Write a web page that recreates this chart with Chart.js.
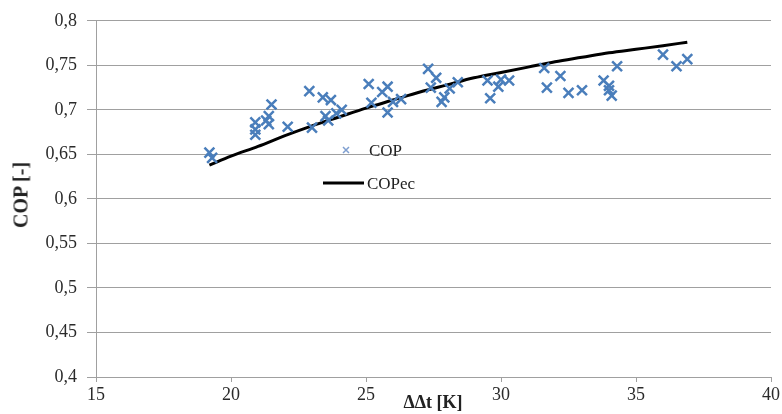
<!DOCTYPE html>
<html>
<head>
<meta charset="utf-8">
<script src="https://cdn.jsdelivr.net/npm/chart.js@4.4.1/dist/chart.umd.min.js"></script>
<style>
    html, body { margin: 0; padding: 0; background: #fff; }
    #wrap { position: relative; width: 782px; height: 414px; overflow: hidden; }
    .lbl { position: absolute; font-family: "Liberation Serif", serif; color: #222; white-space: nowrap; }
    #y-title { left: 21px; top: 195px; font-size: 20px; font-weight: bold; transform: translate(-50%, -50%) rotate(-90deg); }
    #x-title { left: 433px; top: 402px; font-size: 18px; font-weight: bold; transform: translate(-50%, -50%); }
    .leg { font-size: 17px; transform: translateY(-50%); }
</style>
</head>
<body>
<div id="wrap">
    <canvas id="copChart" width="782" height="414"></canvas>
    <div class="lbl" id="y-title">COP [-]</div>
    <div class="lbl" id="x-title">ΔΔt [K]</div>
    <div class="lbl leg" style="left:369px; top:151px">COP</div>
    <div class="lbl leg" style="left:367px; top:184px">COPec</div>
</div>
<script>
// Measured points (ΔΔt [K], COP [-])
const copX = [19.2, 19.3, 20.9, 20.9, 20.9, 21.3, 21.4, 21.5, 21.4, 22.1,
              22.9, 23.0, 23.4, 23.7, 23.5, 23.9, 24.1, 23.6, 25.1, 25.2,
              25.6, 25.8, 25.8, 26.0, 26.3, 27.3, 27.6, 27.4, 27.9, 28.1,
              28.4, 27.8, 29.6, 29.9, 30.0, 30.3, 29.5, 31.6, 32.2, 31.7,
              32.5, 33.0, 33.8, 34.0, 34.3, 34.1, 34.0, 36.0, 36.5, 36.9];
const copY = [0.652, 0.646, 0.686, 0.678, 0.672, 0.688, 0.693, 0.706, 0.684, 0.681,
              0.721, 0.680, 0.714, 0.711, 0.693, 0.696, 0.700, 0.688, 0.729, 0.708,
              0.720, 0.726, 0.697, 0.709, 0.712, 0.746, 0.736, 0.725, 0.714, 0.724,
              0.731, 0.709, 0.713, 0.726, 0.734, 0.733, 0.733, 0.747, 0.738, 0.725,
              0.719, 0.722, 0.733, 0.727, 0.749, 0.716, 0.722, 0.762, 0.749, 0.757];

// Correlation curve COPec
const fitX = [19.2, 20, 21, 22, 23, 24, 25, 26, 27, 28, 29, 30, 31, 32, 33, 34, 35, 36, 36.9];
const fitY = [0.638, 0.648, 0.659, 0.671, 0.682, 0.692, 0.702, 0.711, 0.720, 0.728,
              0.736, 0.742, 0.748, 0.754, 0.759, 0.764, 0.768, 0.772, 0.776];

// Axis ticks
const xTicks = [15, 20, 25, 30, 35, 40];
const yTicks = [0.4, 0.45, 0.5, 0.55, 0.6, 0.65, 0.7, 0.75, 0.8];

const MARK_BLUE = '#4a7ebb';
const GRID = '#a0a0a0';
const TICK_FONT = { family: '"Liberation Serif", serif', size: 18 };

const zip = (xs, ys) => xs.map((x, i) => ({ x: x, y: ys[i] }));

// Legend symbols drawn next to the HTML labels
const legendMarks = {
    id: 'legendMarks',
    afterDraw(chart) {
        const ctx = chart.ctx;
        ctx.save();
        ctx.strokeStyle = '#7f9fd0';
        ctx.lineWidth = 1.5;
        ctx.beginPath();
        ctx.moveTo(343, 147); ctx.lineTo(349, 153);
        ctx.moveTo(349, 147); ctx.lineTo(343, 153);
        ctx.stroke();
        ctx.strokeStyle = '#000';
        ctx.lineWidth = 3;
        ctx.beginPath();
        ctx.moveTo(323, 183); ctx.lineTo(364, 183);
        ctx.stroke();
        ctx.restore();
    }
};

new Chart(document.getElementById('copChart'), {
    type: 'scatter',
    data: {
        datasets: [
            {
                label: 'COP',
                data: zip(copX, copY),
                pointStyle: 'crossRot',
                pointRadius: 7,
                pointBorderWidth: 2.5,
                borderColor: MARK_BLUE,
                backgroundColor: MARK_BLUE
            },
            {
                label: 'COPec',
                type: 'line',
                data: zip(fitX, fitY),
                borderColor: '#000',
                borderWidth: 3,
                pointRadius: 0,
                cubicInterpolationMode: 'monotone',
                fill: false
            }
        ]
    },
    options: {
        responsive: false,
        animation: false,
        layout: { padding: { top: 15, right: 11, left: 0, bottom: 0 } },
        plugins: { legend: { display: false }, tooltip: { enabled: false } },
        scales: {
            x: {
                type: 'linear',
                min: 15, max: 40,
                afterBuildTicks: s => { s.ticks = xTicks.map(v => ({ value: v })); },
                afterFit: s => { s.height = 37; },
                grid: { drawOnChartArea: false, drawTicks: true, tickLength: 5, color: GRID },
                border: { color: GRID, width: 1 },
                ticks: { font: TICK_FONT, color: '#2a2a2a', padding: 2, maxRotation: 0 }
            },
            y: {
                min: 0.4, max: 0.8,
                afterBuildTicks: s => { s.ticks = yTicks.map(v => ({ value: v })); },
                afterFit: s => { s.width = 96; },
                grid: { color: GRID, tickLength: 9, lineWidth: 1 },
                border: { color: GRID, width: 1 },
                ticks: {
                    font: TICK_FONT, color: '#2a2a2a', padding: 10,
                    callback: v => String(Math.round(v * 100) / 100).replace('.', ',')
                }
            }
        }
    },
    plugins: [legendMarks]
});
</script>
</body>
</html>
